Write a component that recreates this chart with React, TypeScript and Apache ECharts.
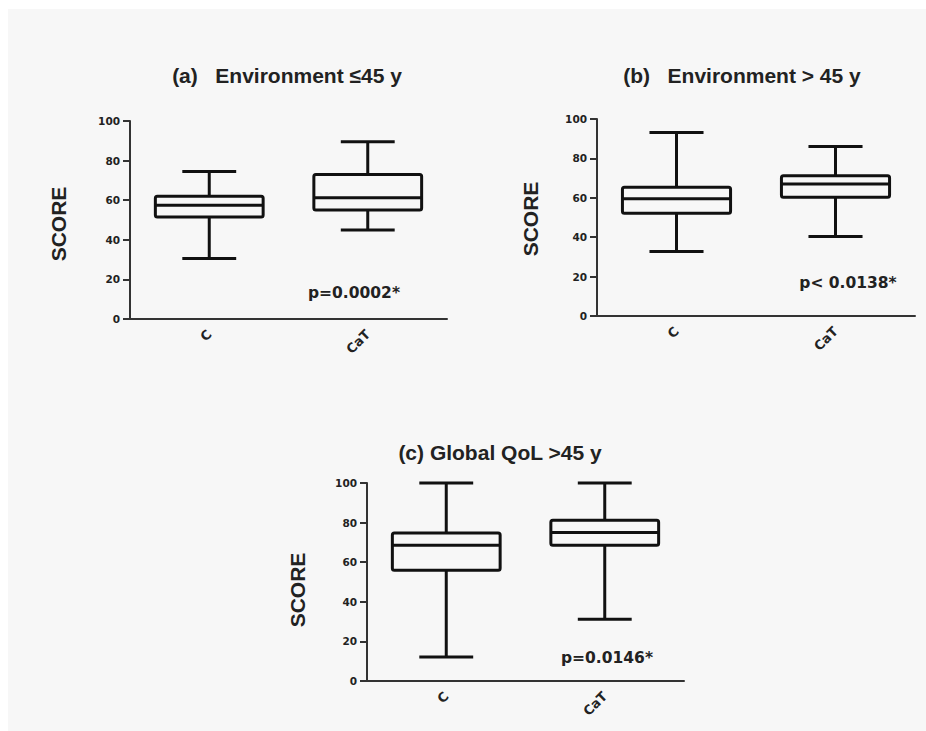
import React, { useEffect, useRef } from 'react';
import * as echarts from 'echarts';

// Categories on each x axis
const categories = ['C', 'CaT'];

// Box statistics: [min, Q1, median, Q3, max]
const envYoungC = [30.5, 51.5, 57.5, 62, 74.5];
const envYoungCaT = [45, 55, 61.3, 73, 89.5];
const envOldC = [32.7, 52.2, 59.5, 65.4, 93.2];
const envOldCaT = [40.3, 60.3, 67, 71.2, 86];
const qolOldC = [12.1, 55.9, 68.5, 74.7, 100];
const qolOldCaT = [31.2, 68.5, 75, 81.2, 100];

// Y axis range / ticks
const yMin = 0;
const yMax = 100;
const yInterval = 20;

// Texts
const panelTitles = ['(a)   Environment \u226445 y', '(b)   Environment > 45 y', '(c) Global QoL >45 y'];
const pValues = ['p=0.0002*', 'p< 0.0138*', 'p=0.0146*'];
const yAxisName = 'SCORE';

const panels = [
  { stats: [envYoungC, envYoungCaT], grid: { left: 130, top: 121, width: 317, height: 198 }, title: [287, 75], score: [58, 224], p: [354, 293] },
  { stats: [envOldC, envOldCaT], grid: { left: 597, top: 119, width: 318, height: 197 }, title: [742, 75], score: [530, 219], p: [848, 283] },
  { stats: [qolOldC, qolOldCaT], grid: { left: 367, top: 483, width: 317, height: 198 }, title: [500, 452], score: [297, 590], p: [607, 658] },
];

const INK = '#111';
const TXT = '#222';

const renderBox = (params: any, api: any) => {
  const idx = api.value(0);
  const vMin = api.value(1);
  const vQ1 = api.value(2);
  const vMed = api.value(3);
  const vQ3 = api.value(4);
  const vMax = api.value(5);
  const [cx, yLo] = api.coord([idx, vMin]);
  const yQ1 = api.coord([idx, vQ1])[1];
  const yMed = api.coord([idx, vMed])[1];
  const yQ3 = api.coord([idx, vQ3])[1];
  const yHi = api.coord([idx, vMax])[1];
  const band = api.size([1, 0])[0];
  const bw = band * 0.68;
  const cw = bw / 2;
  const style = { stroke: INK, lineWidth: 3, fill: 'none', lineCap: 'butt' };
  return {
    type: 'group',
    children: [
      { type: 'line', shape: { x1: cx, y1: yQ3, x2: cx, y2: yHi }, style },
      { type: 'line', shape: { x1: cx, y1: yQ1, x2: cx, y2: yLo }, style },
      { type: 'line', shape: { x1: cx - cw / 2, y1: yHi, x2: cx + cw / 2, y2: yHi }, style },
      { type: 'line', shape: { x1: cx - cw / 2, y1: yLo, x2: cx + cw / 2, y2: yLo }, style },
      { type: 'rect', shape: { x: cx - bw / 2, y: yQ3, width: bw, height: yQ1 - yQ3, r: 2 }, style: { stroke: INK, lineWidth: 3, fill: 'none' } },
      { type: 'line', shape: { x1: cx - bw / 2, y1: yMed, x2: cx + bw / 2, y2: yMed }, style },
    ],
  };
};

export default function App() {
  const ref = useRef<HTMLDivElement>(null);
  useEffect(() => {
    if (!ref.current) return;
    const chart = echarts.init(ref.current, undefined, { renderer: 'svg' });
    const grid = panels.map((p) => ({ ...p.grid, containLabel: false }));
    const xAxis = panels.map((_, i) => ({
      type: 'category',
      gridIndex: i,
      data: categories,
      axisLine: { lineStyle: { color: '#333', width: 2 } },
      axisTick: { alignWithLabel: true, length: 6, lineStyle: { color: '#333', width: 2 } },
      axisLabel: { rotate: 45, margin: 13, color: TXT, fontSize: 13, fontWeight: 'bold', fontFamily: 'DejaVu Sans' },
    }));
    const yAxis = panels.map((_, i) => ({
      type: 'value',
      gridIndex: i,
      min: yMin,
      max: yMax,
      interval: yInterval,
      splitLine: { show: false },
      axisLine: { show: true, lineStyle: { color: '#333', width: 2 } },
      axisTick: { show: true, length: 7, lineStyle: { color: '#333', width: 2 } },
      axisLabel: { margin: 10, color: TXT, fontSize: 10.5, fontWeight: 'bold', fontFamily: 'DejaVu Sans' },
    }));
    const series = panels.map((p, i) => ({
      type: 'custom',
      xAxisIndex: i,
      yAxisIndex: i,
      renderItem: renderBox,
      encode: { x: 0, y: [1, 2, 3, 4, 5] },
      data: p.stats.map((s, k) => [k, ...s]),
    }));
    const texts: any[] = [];
    panels.forEach((p, i) => {
      texts.push({
        type: 'text', x: p.title[0], y: p.title[1],
        style: { text: panelTitles[i], align: 'center', verticalAlign: 'middle', fill: TXT, font: 'bold 21px "Liberation Sans", Arial, sans-serif' },
      });
      texts.push({
        type: 'text', x: p.score[0], y: p.score[1], rotation: Math.PI / 2,
        style: { text: yAxisName, align: 'center', verticalAlign: 'middle', fill: TXT, font: 'bold 21px "Liberation Sans", Arial, sans-serif' },
      });
      texts.push({
        type: 'text', x: p.p[0], y: p.p[1],
        style: { text: pValues[i], align: 'center', verticalAlign: 'middle', fill: TXT, font: 'bold 15.5px "DejaVu Sans", sans-serif' },
      });
    });
    chart.setOption({
      animation: false,
      backgroundColor: '#ffffff',
      graphic: [
        { type: 'rect', z: -10, silent: true, shape: { x: 8, y: 9, width: 918, height: 722 }, style: { fill: '#f7f7f7' } },
        ...texts,
      ],
      grid,
      xAxis,
      yAxis,
      series,
    });
    return () => chart.dispose();
  }, []);
  return <div ref={ref} style={{ position: 'fixed', left: 0, top: 0, width: 926, height: 731 }} />;
}
